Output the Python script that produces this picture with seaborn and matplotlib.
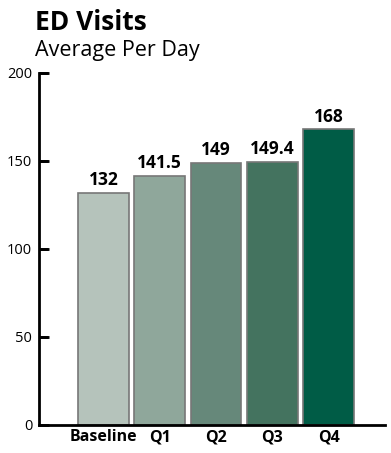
import matplotlib
matplotlib.use("Agg")
import matplotlib.pyplot as plt
import seaborn as sns
import pandas as pd

# datos
categorias = ["Baseline", "Q1", "Q2", "Q3", "Q4"]
visitas = [132, 141.5, 149, 149.4, 168]
etiquetas = ["132", "141.5", "149", "149.4", "168"]
colores = ["#b5c3bb", "#8fa79b", "#66887a", "#44735f", "#005c46"]
marcas_y = [0, 50, 100, 150, 200]

sns.set_style("ticks")
plt.rcParams["font.family"] = ["Open Sans", "DejaVu Sans"]
plt.rcParams["text.color"] = "black"
plt.rcParams["xtick.color"] = "black"
plt.rcParams["ytick.color"] = "black"

df = pd.DataFrame({"cat": categorias, "val": visitas})

fig = plt.figure(figsize=(3.91, 4.53), dpi=100)
ax = fig.add_axes([0.1, 0.062, 0.885, 0.777])

sns.barplot(data=df, x="cat", y="val", hue="cat", palette=colores, legend=False,
            width=0.9, edgecolor="#777777", linewidth=1.2, saturation=1, ax=ax)

for i, (v, t) in enumerate(zip(visitas, etiquetas)):
    ax.text(i, v + 2, t, ha="center", va="bottom", fontsize=12.5, fontweight="bold")

sns.despine(ax=ax)
ax.set_ylim(0, 200)
ax.set_xlim(-1.14, 5.0)
ax.set_yticks(marcas_y)
ax.tick_params(axis="y", left=True, direction="in", length=7, width=2,
               labelsize=10.5, pad=5, colors="black")
ax.tick_params(axis="x", bottom=False, length=0, labelsize=11.5, pad=3, colors="black")
# marcas hacia dentro dibujadas a mano por si acaso
ax.hlines(marcas_y[1:], 0, 0.025, colors="black", linewidth=2,
          transform=ax.get_yaxis_transform(), zorder=5, clip_on=False)
for lab in ax.get_xticklabels():
    lab.set_fontweight("bold")
ax.set_xlabel("")
ax.set_ylabel("")
ax.spines["left"].set_linewidth(2)
ax.spines["bottom"].set_linewidth(2)
ax.spines["left"].set_color("black")
ax.spines["bottom"].set_color("black")

fig.text(0.09, 0.934, "ED Visits", fontsize=19, fontweight="bold", ha="left", va="baseline")
fig.text(0.09, 0.876, "Average Per Day", fontsize=15.5, ha="left", va="baseline")

fig.savefig("out.png", dpi=100)
